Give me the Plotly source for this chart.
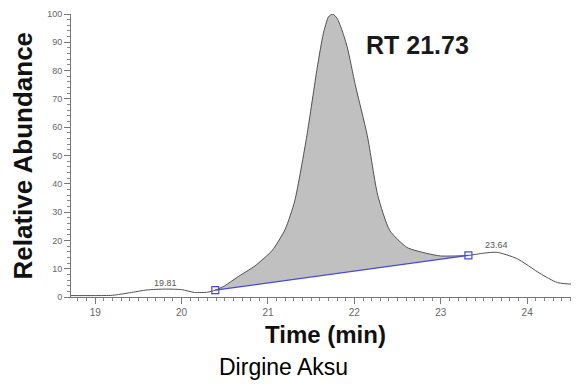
import numpy as np
import plotly.graph_objects as go

# Chromatogram trace (time in min, relative abundance in %)
time_min = [18.72, 19.0, 19.2, 19.4, 19.6, 19.81, 20.0, 20.15, 20.3, 20.39,
            20.5, 20.64, 20.85, 21.05, 21.2, 21.31, 21.45, 21.57, 21.64, 21.7,
            21.75, 21.8, 21.86, 21.92, 22.01, 22.15, 22.27, 22.41, 22.61, 22.84,
            23.0, 23.32, 23.5, 23.65, 23.88, 24.15, 24.35, 24.6]
abundance = [0.5, 0.5, 0.6, 1.5, 2.5, 2.8, 2.6, 1.6, 1.7, 2.4,
             4.0, 6.9, 11.0, 16.5, 24.0, 34.0, 57.0, 81.0, 93.0, 99.0,
             100.0, 98.5, 94.0, 88.0, 75.0, 57.0, 36.0, 23.5, 17.5, 15.4,
             14.5, 14.7, 15.5, 15.8, 13.6, 8.3, 5.1, 4.4]

# Integration baseline (peak start / end)
base_time = [20.39, 23.32]
base_val = [2.4, 14.7]

# Peak labels
peak_label_time = [19.81, 23.64]
peak_label_text = ["19.81", "23.64"]
peak_label_val = [4.8, 18.3]
rt_text = "RT 21.73"

t = np.array(time_min)
a = np.array(abundance)
mask = (t >= base_time[0]) & (t <= base_time[1])
t_seg = t[mask]
a_seg = a[mask]
b_seg = np.interp(t_seg, base_time, base_val)

FONT = "Arial, Liberation Sans, sans-serif"

fig = go.Figure()
fig.add_trace(go.Scatter(x=t_seg, y=b_seg, mode="lines",
                         line=dict(color="rgba(0,0,0,0)", width=0),
                         hoverinfo="skip", showlegend=False))
fig.add_trace(go.Scatter(x=t_seg, y=a_seg, mode="lines", fill="tonexty",
                         fillcolor="#c0c0c0",
                         line=dict(color="rgba(0,0,0,0)", width=0, shape="spline", smoothing=0.6),
                         hoverinfo="skip", showlegend=False))
fig.add_trace(go.Scatter(x=time_min, y=abundance, mode="lines",
                         line=dict(color="#505050", width=1, shape="spline", smoothing=0.6),
                         showlegend=False))
fig.add_trace(go.Scatter(x=base_time, y=base_val, mode="lines+markers",
                         line=dict(color="#4848e0", width=1.2),
                         marker=dict(symbol="square-open", size=7, color="#4848e0",
                                     line=dict(width=1.2)),
                         showlegend=False, cliponaxis=False))

for xt, yt, tx in zip(peak_label_time, peak_label_val, peak_label_text):
    fig.add_annotation(x=xt, y=yt, text=tx, showarrow=False,
                       font=dict(family=FONT, size=9, color="#555555"))

fig.add_annotation(x=22.73, y=89, text=f"<b>{rt_text}</b>", showarrow=False,
                   xanchor="center", yanchor="middle",
                   font=dict(family=FONT, size=25, color="#1a1a1a"))

fig.add_annotation(x=0.5, y=-0.131, xref="paper", yref="paper",
                   xanchor="center", yanchor="middle",
                   text="<b>Time (min)</b>", showarrow=False,
                   font=dict(family=FONT, size=24, color="#111111"))
fig.add_annotation(x=0.419, y=-0.247, xref="paper", yref="paper",
                   xanchor="center", yanchor="middle",
                   text="Dirgine Aksu", showarrow=False,
                   font=dict(family=FONT, size=23, color="#000000"))
fig.add_annotation(x=-0.0945, y=0.5, xref="paper", yref="paper",
                   xanchor="center", yanchor="middle",
                   text="<b>Relative Abundance</b>", showarrow=False, textangle=-90,
                   font=dict(family=FONT, size=26, color="#111111"))

# page body has an 8px default margin, so the figure is sized to fit the window
fig.update_layout(
    width=571, height=381,
    margin=dict(l=63, r=0, t=6, b=92),
    paper_bgcolor="white", plot_bgcolor="white",
    xaxis=dict(range=[18.72, 24.6], showgrid=False, zeroline=False,
               showline=True, linecolor="#777777", linewidth=1,
               ticks="outside", ticklen=6, tickcolor="#777777",
               dtick=1, tick0=19,
               tickfont=dict(family=FONT, size=10, color="#666666"),
               minor=dict(dtick=0.1, ticks="outside", ticklen=3, tickcolor="#888888")),
    yaxis=dict(range=[0, 100], showgrid=False, zeroline=False,
               showline=True, linecolor="#777777", linewidth=1,
               ticks="outside", ticklen=6, tickcolor="#777777",
               dtick=10, tick0=0,
               tickfont=dict(family=FONT, size=9, color="#666666"),
               minor=dict(dtick=2, ticks="outside", ticklen=3, tickcolor="#888888")),
)

fig.write_html("out.html")
